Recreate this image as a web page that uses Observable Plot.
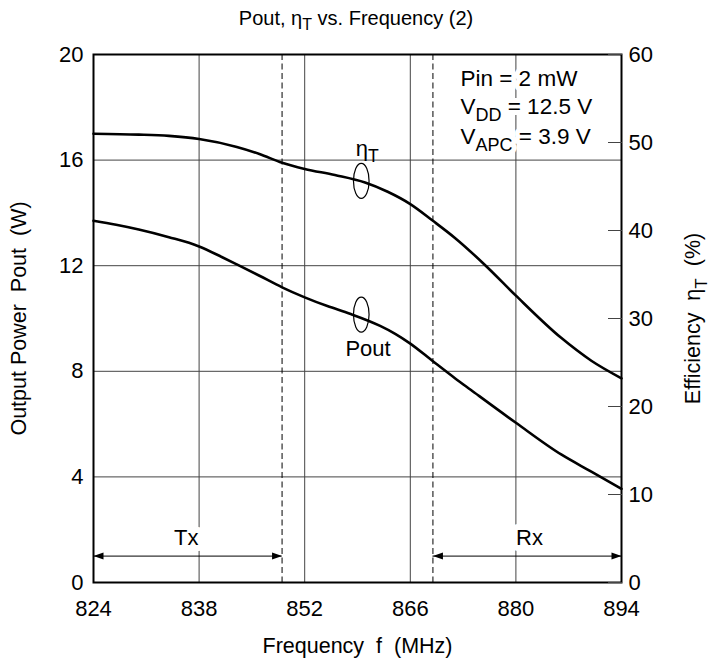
<!DOCTYPE html>
<html>
<head>
<meta charset="utf-8">
<script src="https://cdn.jsdelivr.net/npm/d3@7"></script>
<script src="https://cdn.jsdelivr.net/npm/@observablehq/plot@0.6"></script>
<style>
  body { margin: 0; background: #fff; font-family: "Liberation Sans", Arial, sans-serif; }
  #title { width: 712px; height: 36px; line-height: 36px; text-align: center; font-size: 20px; color: #000; }
  #title sub { font-size: 0.8em; line-height: 0; }
  svg text { white-space: pre; }
</style>
</head>
<body>
<div id="title">Pout, η<sub>T</sub> vs. Frequency (2)</div>
<div id="chart"></div>
<script>
// ---- data ----
const poutFreq = [824, 827, 830, 834, 838, 841, 843, 846, 849, 852, 855, 858, 862, 864, 866, 869, 872, 874, 880, 886, 890, 894];
const poutW    = [13.7, 13.55, 13.37, 13.08, 12.73, 12.33, 12.05, 11.62, 11.18, 10.8, 10.47, 10.18, 9.72, 9.42, 9.05, 8.38, 7.72, 7.3, 6.05, 4.85, 4.2, 3.55];
const etaFreq  = [824, 830, 834, 838, 843, 846, 849, 852, 856, 860, 863, 866, 869, 872, 876, 880, 886, 890, 894];
const etaPct   = [51.0, 50.9, 50.75, 50.4, 49.5, 48.7, 47.7, 47.0, 46.3, 45.45, 44.4, 43.0, 41.1, 39.1, 36.0, 32.6, 27.8, 25.2, 23.2];

const xTicks = [824, 838, 852, 866, 880, 894];
const leftTicks = [0, 4, 8, 12, 16, 20];
const rightTicks = [0, 10, 20, 30, 40, 50, 60];
const gridFreq = [838, 852, 866, 880];
const gridPower = [4, 8, 12, 16];
const bandEdges = [849, 869];
const bandNames = ["Tx", "Rx"];
const bandFrom = [824, 869];
const bandTo = [849, 894];
const bandLabelX = [836.3, 881.8];
const bandLabelY = 1.67;
const bandArrowY = 1.0;

const condLines = ["Pin = 2 mW", "V_{DD} = 12.5 V", "V_{APC} = 3.9 V"];
const condX = 872.65;
const condY = [19.09, 18.01, 16.875];

const curveNames = ["η_{T}", "Pout"];
const curveLabelX = [860.3, 860.4];
const curveLabelY = [16.44, 8.83];
const loopX = [859.5, 859.5];
const loopY = [15.21, 10.15];

const etaScale = 3; // right axis (%) = left axis (W) * 3

// ---- tables built from arrays ----
const pout = poutFreq.map((f, i) => ({f, v: poutW[i]}));
const eta = etaFreq.map((f, i) => ({f, v: etaPct[i] / etaScale}));
const bands = bandNames.map((n, i) => ({n, from: bandFrom[i], to: bandTo[i], lx: bandLabelX[i]}));
const cond = condLines.map((t, i) => ({t, y: condY[i]}));
const curveLabels = curveNames.map((t, i) => ({t, x: curveLabelX[i], y: curveLabelY[i]}));
const loops = loopX.map((x, i) => ({x, y: loopY[i]}));

// ---- custom symbols ----
const arrowLeft = {draw(ctx) { ctx.moveTo(0, 0); ctx.lineTo(10, -3.5); ctx.lineTo(10, 3.5); ctx.closePath(); }};
const arrowRight = {draw(ctx) { ctx.moveTo(0, 0); ctx.lineTo(-10, -3.5); ctx.lineTo(-10, 3.5); ctx.closePath(); }};
const loopSym = {draw(ctx) {
  const rx = 7.8, ry = 17.5, k = 0.5523;
  ctx.moveTo(rx, 0);
  ctx.bezierCurveTo(rx, ry * k, rx * k, ry, 0, ry);
  ctx.bezierCurveTo(-rx * k, ry, -rx, ry * k, -rx, 0);
  ctx.bezierCurveTo(-rx, -ry * k, -rx * k, -ry, 0, -ry);
  ctx.bezierCurveTo(rx * k, -ry, rx, -ry * k, rx, 0);
  ctx.closePath();
}};

const FONT = "'Liberation Sans', Arial, sans-serif";

const chart = Plot.plot({
  width: 712,
  height: 632,
  marginTop: 18,
  marginBottom: 86,
  marginLeft: 93,
  marginRight: 91,
  x: {domain: [824, 894]},
  y: {domain: [0, 20]},
  style: {fontFamily: FONT, fontSize: "22px", color: "black", background: "white"},
  marks: [
    Plot.gridX(gridFreq, {stroke: "#444", strokeOpacity: 1, strokeWidth: 1}),
    Plot.gridY(gridPower, {stroke: "#444", strokeOpacity: 1, strokeWidth: 1}),
    Plot.ruleX(bandEdges, {stroke: "black", strokeWidth: 1, strokeDasharray: "6,3.5"}),
    Plot.text(bands, {x: "lx", y: () => bandLabelY, text: "n", fontSize: 22, fill: "black",
      stroke: "white", strokeWidth: 12, paintOrder: "stroke"}),
    Plot.ruleY(bands, {x1: "from", x2: "to", y: () => bandArrowY, stroke: "black", strokeWidth: 1}),
    Plot.dot(bands, {x: "from", y: () => bandArrowY, symbol: arrowLeft, fill: "black", stroke: null}),
    Plot.dot(bands, {x: "to", y: () => bandArrowY, symbol: arrowRight, fill: "black", stroke: null}),
    Plot.text(cond, {x: () => condX, y: "y", text: "t", textAnchor: "start", fontSize: 22.5, fill: "black",
      stroke: "white", strokeWidth: 10, paintOrder: "stroke"}),
    Plot.line(eta, {x: "f", y: "v", curve: "monotone-x", stroke: "black", strokeWidth: 2.6}),
    Plot.line(pout, {x: "f", y: "v", curve: "monotone-x", stroke: "black", strokeWidth: 2.6}),
    Plot.dot(loops, {x: "x", y: "y", symbol: loopSym, fill: "none", stroke: "black", strokeWidth: 1.2}),
    Plot.text(curveLabels, {x: "x", y: "y", text: "t", fontSize: 22, fill: "black"}),
    Plot.frame({stroke: "black", strokeWidth: 2}),
    Plot.axisX(xTicks, {anchor: "bottom", tickSize: 0, tickPadding: 18, label: null, fontSize: 22}),
    Plot.axisY(leftTicks, {anchor: "left", tickSize: 0, tickPadding: 10, label: null, fontSize: 22}),
    Plot.axisY(rightTicks.map(v => v / etaScale), {anchor: "right", tickSize: -14, tickPadding: 21,
      tickFormat: d => String(Math.round(d * etaScale)), label: null, fontSize: 22, stroke: "#444"}),
    Plot.text(["Output Power  Pout  (W)"], {text: d => d, frameAnchor: "left", textAnchor: "middle",
      dx: -74, rotate: -90, fontSize: 21.5, fill: "black"}),
    Plot.text(["Efficiency  η_{T}  (%)"], {text: d => d, frameAnchor: "right", textAnchor: "middle",
      dx: 72, rotate: -90, fontSize: 21.5, fill: "black"}),
    Plot.text(["Frequency  f  (MHz)"], {text: d => d, frameAnchor: "bottom", textAnchor: "middle",
      dy: 70, fontSize: 21.5, fill: "black"})
  ]
});

// ---- subscripts: "X_{sub}" -> tspans ----
const NS = "http://www.w3.org/2000/svg";
chart.querySelectorAll("text, tspan").forEach(el => {
  if (el.children.length) return;
  const s = el.textContent;
  if (!s.includes("_{")) return;
  el.textContent = "";
  const parts = s.split(/_\{([^}]*)\}/);
  let prevSub = false;
  parts.forEach((p, i) => {
    if (!p) return;
    const t = document.createElementNS(NS, "tspan");
    t.textContent = p;
    if (i % 2) {
      t.setAttribute("font-size", "80%");
      t.setAttribute("dy", "0.375em");
      prevSub = true;
    } else if (prevSub) {
      t.setAttribute("dy", "-0.3em");
      prevSub = false;
    }
    el.appendChild(t);
  });
});

document.getElementById("chart").appendChild(chart);
</script>
</body>
</html>
